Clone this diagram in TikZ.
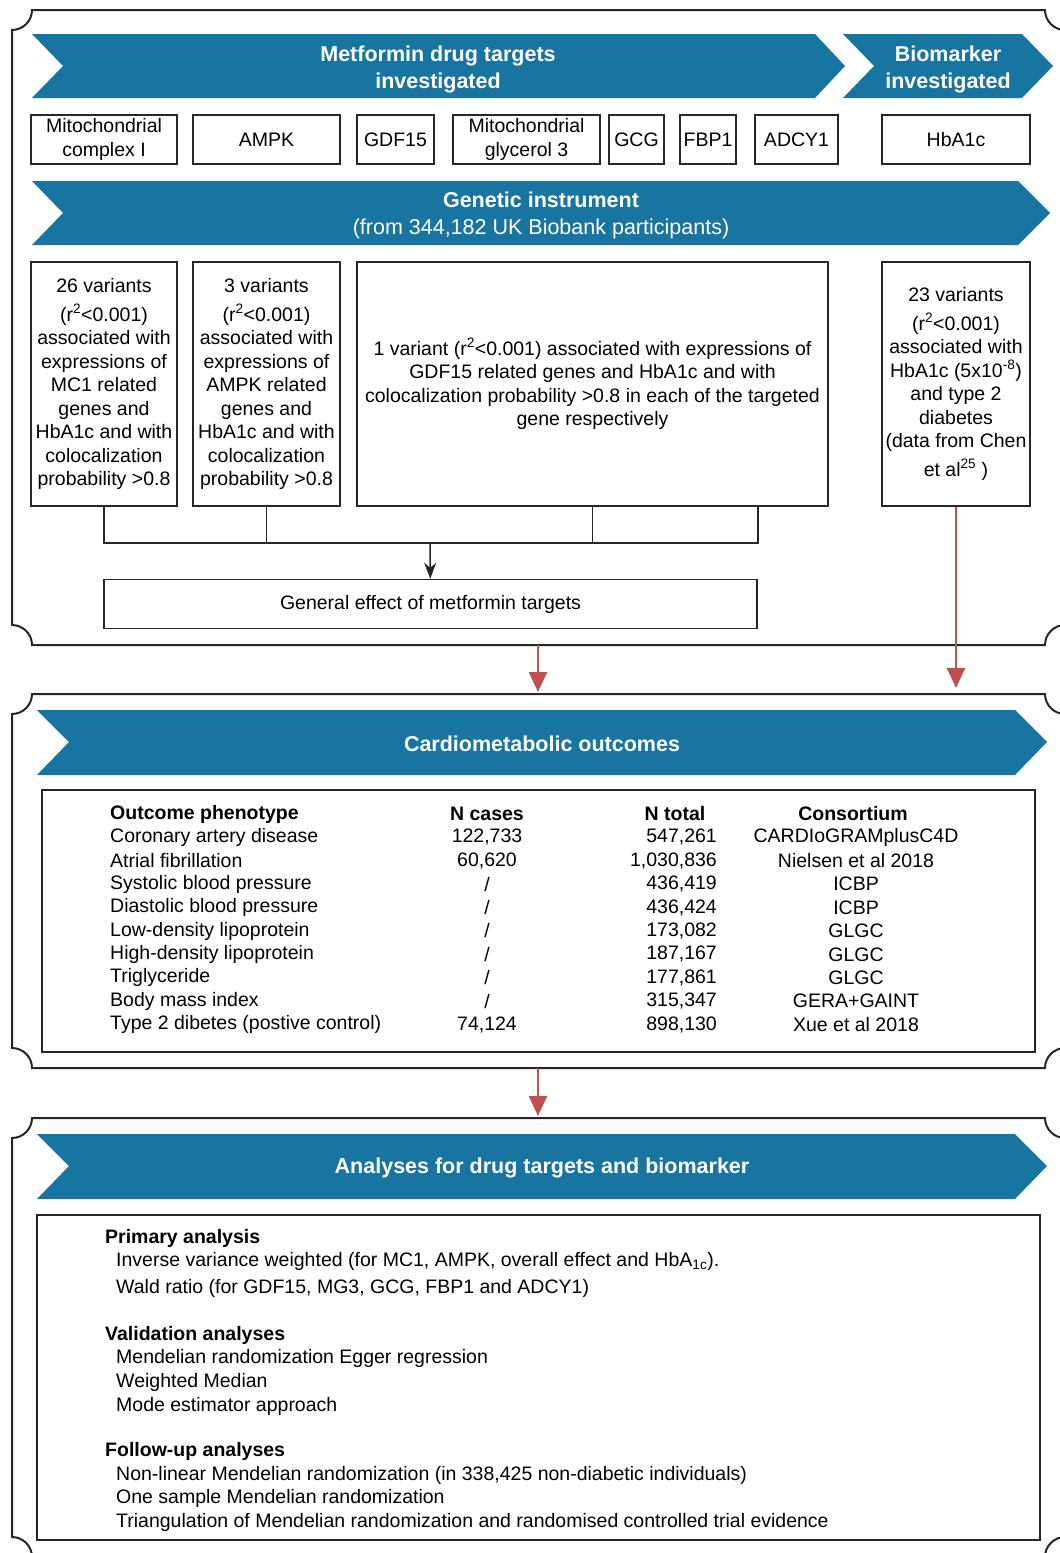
\documentclass[tikz,border=0pt]{standalone}
\usepackage{fontspec}
\setmainfont{Liberation Sans}
\usetikzlibrary{arrows.meta,calc}
\definecolor{bannerBlue}{HTML}{1874A0}
\definecolor{arrowRed}{HTML}{C0504D}

\begin{document}
\begin{tikzpicture}[
    x=1pt,y=-1pt,
    every node/.style={font=\fontsize{19.5}{23.5}\selectfont,inner sep=0pt},
    panel/.style={draw=black!85,line width=2pt},
    banner/.style={fill=bannerBlue},
    title/.style={text=white,font=\fontsize{21.5}{27}\selectfont\bfseries,align=center,yshift=-2pt},
    tbox/.style={draw=black!85,line width=1.5pt,align=center,minimum height=49pt},
    vbox/.style={draw=black!85,line width=1.5pt,align=center,minimum height=244pt},
    link/.style={black!85,line width=1.5pt},
    redarrow/.style={arrowRed,line width=2.5pt,-{Triangle[length=20pt,width=18pt]}},
    txt/.style={yshift=-2pt},
    head/.style={txt,font=\fontsize{19.5}{23.5}\selectfont\bfseries}
  ]
  \useasboundingbox (0,0) rectangle (1060,1553);
  %% Panels with notched corners
  \foreach \t/\b in {10/645,694/1068,1118/1557}
    \draw[panel] (32,\t) -- (1045,\t) .. controls (1045,\t+11) and (1054,\t+20) .. (1065,\t+20)
      -- (1065,\b-20) .. controls (1054,\b-20) and (1045,\b-11) .. (1045,\b)
      -- (32,\b) .. controls (32,\b-11) and (23,\b-20) .. (12,\b-20)
      -- (12,\t+20) .. controls (23,\t+20) and (32,\t+11) .. (32,\t) -- cycle;

  %% Banners
  \fill[banner] (32,34) -- (815,34) -- (845,66) -- (815,98) -- (32,98) -- (63,66) -- cycle;
  \node[title] (tdrug) at (438,67) {Metformin drug targets\\investigated};
  \fill[banner] (843,34) -- (1022,34) -- (1053,66) -- (1022,98) -- (843,98) -- (874,66) -- cycle;
  \node[title] (tmark) at (948,67) {Biomarker\\investigated};
  \fill[banner] (32,181) -- (1018,181) -- (1050,213) -- (1018,245) -- (32,245) -- (63,213) -- cycle;
  \node[title] (tgen) at (541,213) {Genetic instrument\\\mdseries(from 344,182 UK Biobank participants)};

  %% Drug targets and biomarker
  \node[tbox,minimum width=146pt] (mc)   at (104,139.5)   {Mitochondrial\\complex I};
  \node[tbox,minimum width=147pt] (ampk) at (266.5,139.5) {AMPK};
  \node[tbox,minimum width=77pt]  (gdf)  at (395.5,139.5) {GDF15};
  \node[tbox,minimum width=147pt] (mg3)  at (526.5,139.5) {Mitochondrial\\glycerol 3};
  \node[tbox,minimum width=55pt]  (gcg)  at (636.5,139.5) {GCG};
  \node[tbox,minimum width=56pt]  (fbp)  at (708,139.5)   {FBP1};
  \node[tbox,minimum width=83pt]  (adcy) at (796.5,139.5) {ADCY1};
  \node[tbox,minimum width=148pt] (hba)  at (956,139.5)   {HbA1c};

  %% Instruments
  \node[vbox,minimum width=146pt] (v26) at (104,384) {26 variants\\[5pt](r\textsuperscript{2}<0.001)\\associated with\\expressions of\\MC1 related\\genes and\\HbA1c and with\\colocalization\\probability >0.8};
  \node[vbox,minimum width=147pt] (v3) at (266.5,384) {3 variants\\[5pt](r\textsuperscript{2}<0.001)\\associated with\\expressions of\\AMPK related\\genes and\\HbA1c and with\\colocalization\\probability >0.8};
  \node[vbox,minimum width=471pt] (v1) at (592.5,384) {1 variant (r\textsuperscript{2}<0.001) associated with expressions of\\GDF15 related genes and HbA1c and with\\colocalization probability >0.8 in each of the targeted\\gene respectively};
  \node[vbox,minimum width=148pt] (v23) at (956,384) {23 variants\\[5pt](r\textsuperscript{2}<0.001)\\associated with\\HbA1c (5x10\textsuperscript{-8})\\and type 2\\diabetes\\(data from Chen\\[5pt]et al\textsuperscript{25} )};

  \node[tbox,minimum width=653pt] (effect) at (430.5,604) {General effect of metformin targets};
  \coordinate (join) at (430,543);
  \draw[link] (v26.south) |- (join);
  \draw[link] (v3.south) |- (join);
  \draw[link] (v1.south) |- (join);
  \draw[link] (v1.south -| effect.east) |- (join);
  \draw[link,-{Stealth[length=16pt,width=12pt,inset=5pt]}] (join) -- (effect);

  %% Arrows between panels
  \coordinate (p1b) at (538,645);
  \coordinate (p2t) at (538,692);
  \coordinate (hbend) at (956,688);
  \coordinate (p2b) at (538,1068);
  \coordinate (p3t) at (538,1116);
  \draw[redarrow] (p1b) -- (p2t);
  \draw[redarrow] (v23.south) -- (hbend);
  \draw[redarrow] (p2b) -- (p3t);

  %% Outcomes
  \fill[banner] (37,710) -- (1015,710) -- (1047,742) -- (1015,775) -- (37,775) -- (69,742) -- cycle;
  \node[title] (tout) at (542,742) {Cardiometabolic outcomes};
  \draw[link] (42,790) rectangle (1035,1052);
  \node[head,anchor=west] (hph) at (110,812) {Outcome phenotype};
  \node[head] (hcase) at (487,812) {N cases};
  \node[head] (htot)  at (675,812) {N total};
  \node[head] (hcons) at (853,812) {Consortium};
  \foreach \pheno/\ncase/\ntot/\cons [count=\i] in {
      {Coronary artery disease}/{122,733}/{547,261}/{CARDIoGRAMplusC4D},
      {Atrial fibrillation}/{60,620}/{1,030,836}/{Nielsen et al 2018},
      {Systolic blood pressure}/{\slash}/{436,419}/{ICBP},
      {Diastolic blood pressure}/{\slash}/{436,424}/{ICBP},
      {Low-density lipoprotein}/{\slash}/{173,082}/{GLGC},
      {High-density lipoprotein}/{\slash}/{187,167}/{GLGC},
      {Triglyceride}/{\slash}/{177,861}/{GLGC},
      {Body mass index}/{\slash}/{315,347}/{GERA+GAINT},
      {Type 2 dibetes (postive control)}/{74,124}/{898,130}/{Xue et al 2018}} {
    \node[txt,anchor=west] (ph\i) at (110,{812+23.4*\i}) {\pheno};
    \node[txt] (nc\i) at (487,{812+23.4*\i}) {\ncase};
    \node[txt,anchor=east] (nt\i) at (717,{812+23.4*\i}) {\ntot};
    \node[txt] (co\i) at (856,{812+23.4*\i}) {\cons};
  }

  %% Analyses
  \fill[banner] (37,1134) -- (1015,1134) -- (1047,1166) -- (1015,1199) -- (37,1199) -- (69,1166) -- cycle;
  \node[title] (tana) at (542,1166) {Analyses for drug targets and biomarker};
  \draw[link] (37,1215) rectangle (1040,1540);
  \node[head,anchor=west] (prim) at (105,1236) {Primary analysis};
  \node[txt,anchor=west] (ivw)  at (116,1259) {Inverse variance weighted (for MC1, AMPK, overall effect and HbA\textsubscript{1c}).};
  \node[txt,anchor=west] (wald) at (116,1286) {Wald ratio (for GDF15, MG3, GCG, FBP1 and ADCY1)};
  \node[head,anchor=west] (valid) at (105,1333) {Validation analyses};
  \node[txt,anchor=west] (egger) at (116,1356) {Mendelian randomization Egger regression};
  \node[txt,anchor=west] (wmed)  at (116,1380) {Weighted Median};
  \node[txt,anchor=west] (mode)  at (116,1404) {Mode estimator approach};
  \node[head,anchor=west] (follow) at (105,1449) {Follow-up analyses};
  \node[txt,anchor=west] (nlmr)  at (116,1473) {Non-linear Mendelian randomization (in 338,425 non-diabetic individuals)};
  \node[txt,anchor=west] (onemr) at (116,1496) {One sample Mendelian randomization};
  \node[txt,anchor=west] (tri)   at (116,1520) {Triangulation of Mendelian randomization and randomised controlled trial evidence};
\end{tikzpicture}
\end{document}
